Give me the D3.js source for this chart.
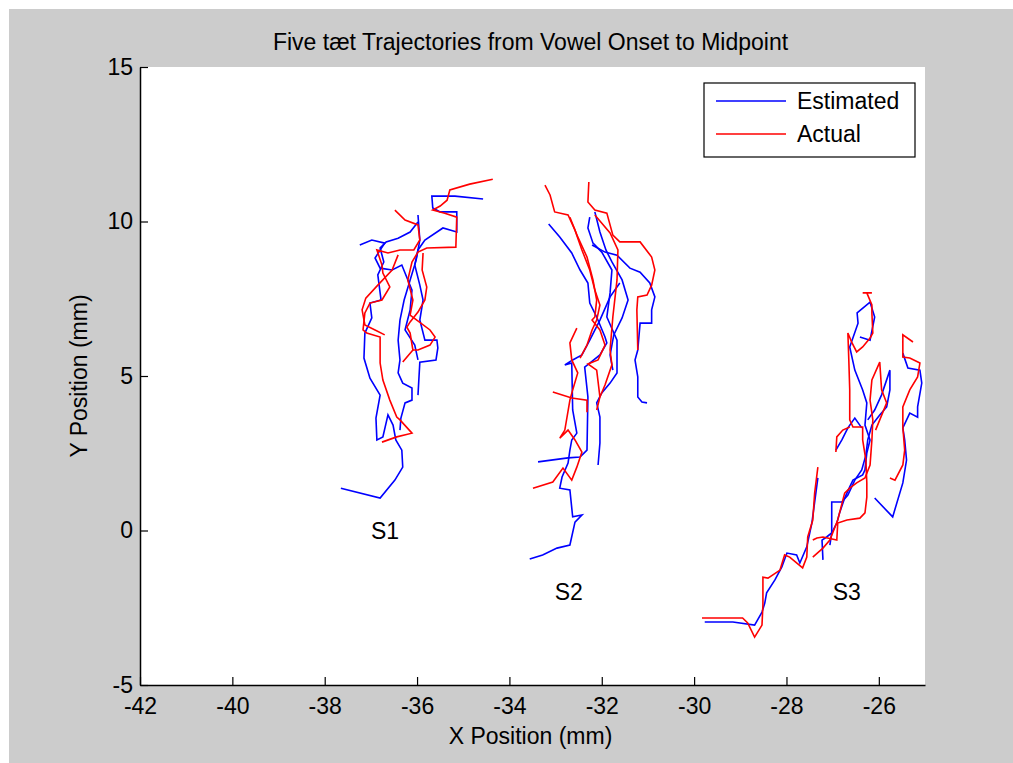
<!DOCTYPE html>
<html>
<head>
<meta charset="utf-8">
<script src="https://d3js.org/d3.v7.min.js"></script>
<style>
  body { margin: 0; background: #fff; }
  text { font-family: 'Liberation Sans', Arial, sans-serif; fill: #000; }
</style>
</head>
<body>
<div id="chart"></div>
<script>
// axis settings
var xTicks = [-42, -40, -38, -36, -34, -32, -30, -28, -26];
var yTicks = [-5, 0, 5, 10, 15];
var xDomain = [-42, -25];
var yDomain = [-5, 15];

// speaker labels
var speakerLabels = ["S1", "S2", "S3"];
var speakerLabelPos = [[-37.0, 0], [-33.02, -2], [-27.0, -2]];

// trajectories, [x, y] in mm
var s1Estimated = [
  [[-37.65,1.37],[-36.80,1.05],[-36.48,1.63],[-36.31,2.05],[-36.33,2.60],[-36.46,2.93],[-36.52,3.41],[-36.63,3.74],[-36.74,3.03],[-36.87,2.93],[-36.89,3.64],[-36.80,4.38],[-37.02,4.93],[-37.15,5.58],[-37.13,6.39],[-36.98,6.88],[-37.02,7.36],[-36.78,7.46],[-36.85,8.27],[-36.72,8.69],[-36.80,9.14],[-36.67,9.34],[-36.41,9.46],[-36.15,9.66],[-35.98,9.98]],
  [[-35.98,10.21],[-35.94,9.40],[-36.02,8.75],[-36.15,8.11],[-36.28,7.46],[-36.37,6.81],[-36.41,6.16],[-36.37,5.52],[-36.41,5.10],[-36.31,4.77],[-36.11,4.61],[-36.11,4.22],[-36.26,4.13],[-36.35,3.64],[-36.37,3.25]],
  [[-34.57,10.73],[-35.18,10.82],[-35.68,10.82],[-35.66,10.44],[-35.50,10.31],[-35.14,10.31],[-35.14,9.66],[-35.44,9.79],[-35.83,9.40],[-35.98,9.08],[-36.05,8.59],[-35.94,7.94],[-35.87,7.46],[-35.94,6.81],[-35.83,6.16],[-35.57,6.16],[-35.55,5.91],[-35.59,5.52],[-35.94,5.45],[-35.98,4.38]],
  [[-37.24,9.24],[-36.98,9.40],[-36.70,9.30],[-36.91,8.82],[-36.80,8.49],[-36.54,8.43],[-36.33,8.59],[-36.11,7.78],[-36.15,7.14],[-36.26,6.49],[-36.05,6.00],[-35.98,5.52]]
];
var s1Actual = [
  [[-34.36,11.37],[-34.86,11.21],[-35.29,11.02],[-35.35,10.69],[-35.50,10.50],[-35.66,10.37],[-35.40,10.27],[-35.14,10.14],[-35.16,9.17],[-35.79,9.14],[-35.98,9.01],[-36.11,8.69],[-36.20,8.11],[-36.09,7.46],[-36.15,6.97],[-35.72,6.49],[-35.61,6.26],[-35.72,6.00],[-35.98,5.84],[-36.09,5.84]],
  [[-36.48,10.37],[-36.26,10.05],[-35.98,9.89],[-35.94,9.40],[-36.07,9.08],[-36.37,9.08],[-36.63,8.98],[-36.87,9.08],[-36.76,8.59],[-36.74,8.33],[-36.59,7.88],[-36.76,7.46],[-37.02,7.36],[-37.13,7.04],[-37.17,6.49],[-37.09,6.39],[-36.80,6.26],[-36.80,5.42],[-36.74,4.87],[-36.59,4.22],[-36.44,3.67],[-36.37,3.58],[-36.11,3.15],[-36.44,3.03],[-36.76,2.86]],
  [[-35.87,8.98],[-35.89,8.43],[-35.79,7.88],[-35.83,7.46],[-35.98,7.07],[-36.15,6.75],[-36.22,6.58],[-36.15,6.39],[-36.09,5.84],[-36.31,5.45]],
  [[-36.41,8.92],[-36.54,8.43],[-36.85,7.94],[-37.11,7.52],[-37.19,7.14],[-37.13,6.65],[-36.91,6.49],[-36.70,6.33]]
];
var s2Estimated = [
  [[-33.15,9.92],[-32.91,9.50],[-32.65,8.98],[-32.47,8.43],[-32.30,8.01],[-32.26,7.36],[-32.11,6.91],[-31.93,6.26],[-31.89,6.07],[-32.04,5.68],[-32.26,5.42],[-32.37,5.29],[-32.30,4.32],[-32.32,2.60],[-32.47,2.38],[-32.73,2.35],[-33.38,2.22]],
  [[-32.26,10.14],[-32.30,9.79],[-32.19,9.30],[-32.00,9.01],[-31.78,8.43],[-31.82,7.69],[-31.89,6.91],[-31.67,6.16],[-31.67,5.10],[-31.82,4.77],[-32.00,4.45],[-32.11,4.13],[-32.04,3.67],[-32.04,2.83],[-32.08,2.12]],
  [[-32.21,9.24],[-31.93,9.01],[-31.67,8.91],[-31.39,8.49],[-31.17,8.36],[-30.96,8.01],[-30.85,7.56],[-30.92,7.14],[-30.92,6.71],[-31.17,6.71],[-31.22,5.84],[-31.28,5.52],[-31.22,4.97],[-31.22,4.32],[-31.13,4.16],[-31.02,4.13]],
  [[-31.61,8.01],[-31.82,7.56],[-32.04,6.81],[-32.26,6.16],[-32.43,5.68],[-32.63,5.52],[-32.80,5.36],[-32.65,5.42],[-32.63,3.90],[-32.54,3.15],[-32.65,2.93],[-32.69,2.60],[-32.73,2.18],[-32.86,1.73],[-32.91,1.37],[-32.69,1.31],[-32.63,0.44],[-32.43,0.50],[-32.58,0.27],[-32.69,-0.47],[-32.97,-0.57],[-33.28,-0.79],[-33.56,-0.92]],
  [[-32.15,10.31],[-32.04,9.66],[-31.91,9.08],[-31.78,8.69],[-31.56,8.11],[-31.43,7.46],[-31.56,6.88],[-31.74,6.33],[-31.82,5.68],[-31.76,5.19]]
];
var s2Actual = [
  [[-33.23,11.18],[-33.12,10.86],[-33.02,10.31],[-32.73,10.21],[-32.58,9.72],[-32.43,9.08],[-32.26,8.43],[-32.15,7.78],[-32.04,7.30],[-32.11,6.81],[-32.21,6.49],[-32.32,6.00],[-32.47,5.58]],
  [[-32.69,10.14],[-32.52,9.50],[-32.32,8.85],[-32.19,8.11],[-32.11,7.46],[-32.15,6.91],[-32.21,6.81],[-32.04,6.49],[-31.93,6.00],[-32.08,5.52],[-32.30,5.39],[-32.11,5.19],[-32.04,4.32],[-32.11,3.90]],
  [[-32.28,11.28],[-32.30,10.63],[-32.15,10.37],[-31.89,10.27],[-31.76,9.56],[-31.61,9.34],[-31.17,9.34],[-30.92,8.85],[-30.85,8.43],[-30.92,7.94],[-31.02,7.62],[-31.22,7.56],[-31.24,7.14],[-31.22,5.84]],
  [[-32.15,10.21],[-31.82,9.63],[-31.65,9.08],[-31.67,8.11],[-31.76,6.91],[-31.82,5.84],[-31.78,5.36],[-31.93,4.71],[-32.04,4.32]],
  [[-32.54,6.55],[-32.69,6.07],[-32.65,5.52],[-32.52,5.10],[-32.63,4.55],[-32.69,4.22],[-32.80,3.25],[-32.91,2.99],[-32.73,3.25],[-32.58,2.93],[-32.43,2.54],[-32.54,2.05],[-32.65,1.63],[-32.84,2.02],[-33.06,1.57],[-33.49,1.37]],
  [[-33.06,4.48],[-32.65,4.29],[-32.32,4.22],[-32.32,3.83]]
];
var s3Estimated = [
  [[-29.77,-2.96],[-29.16,-2.96],[-28.69,-3.06],[-28.53,-2.64],[-28.47,-2.35],[-28.43,-2.02],[-28.25,-1.60],[-28.10,-1.18],[-27.99,-0.73],[-27.78,-0.79],[-27.71,-1.05],[-27.56,-0.53],[-27.45,0.24],[-27.32,1.70]],
  [[-27.21,-0.95],[-27.23,-0.31],[-27.13,-0.21],[-27.02,-0.08],[-26.91,0.24],[-26.85,0.57],[-26.74,1.05],[-26.63,1.41],[-26.56,1.63],[-26.35,1.80],[-26.30,1.96],[-26.26,2.51],[-26.19,2.93],[-26.30,3.41],[-26.26,4.13],[-26.35,4.55],[-26.52,5.19],[-26.63,5.94],[-26.45,6.71],[-26.47,7.04],[-26.19,7.39],[-26.09,6.91],[-26.19,6.16],[-26.41,6.26]],
  [[-26.09,1.05],[-25.70,0.44],[-25.48,1.54],[-25.40,2.28],[-25.44,2.93],[-25.48,3.32],[-25.33,3.80],[-25.16,3.67],[-25.16,4.00],[-25.07,4.77],[-25.11,5.19],[-25.37,5.26],[-25.48,5.74]],
  [[-27.06,-0.47],[-27.02,-0.08],[-27.02,0.92],[-26.80,0.92],[-26.67,1.15],[-26.52,1.63],[-26.37,1.96],[-26.28,2.44],[-26.24,2.93],[-26.15,3.41],[-25.98,3.74],[-25.83,4.00],[-25.76,4.55],[-25.76,5.19],[-25.94,4.39],[-26.09,3.90],[-26.24,3.58]],
  [[-26.93,2.60],[-26.80,2.93],[-26.67,3.32],[-26.52,3.64],[-26.37,3.32]]
];
var s3Actual = [
  [[-29.83,-2.83],[-28.95,-2.83],[-28.84,-2.99],[-28.69,-3.45],[-28.53,-3.06],[-28.51,-2.41],[-28.51,-1.51],[-28.40,-1.54],[-28.14,-1.28],[-28.04,-0.79],[-27.93,-0.86],[-27.65,-1.21],[-27.56,-0.86],[-27.54,-0.21],[-27.43,0.34],[-27.39,1.21],[-27.32,2.05]],
  [[-27.43,-0.31],[-27.34,-0.24],[-27.21,-0.21],[-26.91,-0.31],[-26.89,0.24],[-26.69,0.34],[-26.41,0.40],[-26.30,0.57],[-26.26,1.08],[-26.26,1.54],[-26.28,2.28],[-26.35,2.93],[-26.35,3.35],[-26.56,3.35],[-26.63,3.58],[-26.63,4.55],[-26.65,5.52],[-26.67,6.39],[-26.58,6.07],[-26.48,5.78],[-26.35,5.94],[-26.19,6.23],[-26.13,6.39],[-26.15,7.04],[-26.15,7.30],[-26.26,7.69],[-26.35,7.69],[-26.15,7.69]],
  [[-27.43,-0.86],[-27.21,-0.57],[-27.06,-0.31],[-26.89,0.34],[-26.74,1.21],[-26.63,1.37],[-26.48,1.54],[-26.30,1.70],[-26.19,2.12],[-26.15,2.93],[-26.13,3.58],[-26.19,4.22],[-26.15,4.87],[-25.98,5.45],[-25.94,4.55],[-25.83,4.13],[-25.98,3.58],[-26.07,3.25]],
  [[-25.76,1.70],[-25.65,1.63],[-25.48,2.12],[-25.44,2.60],[-25.48,3.35],[-25.48,4.00],[-25.33,4.55],[-25.16,4.97],[-25.11,5.42],[-25.33,5.58],[-25.48,5.61],[-25.48,6.33],[-25.26,6.10]],
  [[-26.93,2.54],[-26.91,3.03],[-26.78,3.25],[-26.63,3.35]]
];

var estimated = s1Estimated.concat(s2Estimated, s3Estimated);
var actual = s1Actual.concat(s2Actual, s3Actual);

var W = 1013, H = 763;
var margin = {top: 67, right: 88, bottom: 78, left: 140},
    width = W - margin.left - margin.right,
    height = H - margin.top - margin.bottom;

var root = d3.select("#chart").append("svg")
  .attr("width", W)
  .attr("height", H);

// grey figure background
root.append("rect")
  .attr("x", 9).attr("y", 9)
  .attr("width", W - 9).attr("height", H - 9)
  .attr("fill", "#cccccc");

var svg = root.append("g")
  .attr("transform", "translate(" + margin.left + "," + margin.top + ")");

svg.append("rect")
  .attr("width", width).attr("height", height)
  .attr("fill", "#fff");

svg.append("clipPath").attr("id", "clip")
  .append("rect").attr("width", width).attr("height", height);

var x = d3.scaleLinear().domain(xDomain).range([0, width]);
var y = d3.scaleLinear().domain(yDomain).range([height, 0]);

var line = d3.line()
  .x(function (d) { return x(d[0]); })
  .y(function (d) { return y(d[1]); });

var plot = svg.append("g").attr("clip-path", "url(#clip)");

plot.selectAll(".est")
  .data(estimated)
  .enter().append("path")
  .attr("class", "est")
  .attr("d", line)
  .attr("fill", "none")
  .attr("stroke", "#0000ff")
  .attr("stroke-width", 1.6);

plot.selectAll(".act")
  .data(actual)
  .enter().append("path")
  .attr("class", "act")
  .attr("d", line)
  .attr("fill", "none")
  .attr("stroke", "#ff0000")
  .attr("stroke-width", 1.6);

// speaker labels
svg.selectAll(".spk")
  .data(speakerLabels)
  .enter().append("text")
  .attr("class", "spk")
  .attr("x", function (d, i) { return x(speakerLabelPos[i][0]); })
  .attr("y", function (d, i) { return y(speakerLabelPos[i][1]); })
  .attr("dy", "0.35em")
  .style("font-size", "23px")
  .text(function (d) { return d; });

// axes (ticks pointing inward, MATLAB style)
var xAxis = svg.append("g")
  .attr("transform", "translate(0," + height + ")")
  .call(d3.axisBottom(x).tickValues(xTicks).tickSize(-8).tickPadding(13).tickSizeOuter(0)
    .tickFormat(function (d) { return d; }));
var yAxis = svg.append("g")
  .call(d3.axisLeft(y).tickValues(yTicks).tickSize(-8).tickPadding(7).tickSizeOuter(0)
    .tickFormat(function (d) { return d; }));

[xAxis, yAxis].forEach(function (a) {
  a.select(".domain").attr("stroke", "#000").attr("stroke-width", 1.5);
  a.selectAll(".tick line").attr("stroke", "#000").attr("stroke-width", 1.2);
  a.selectAll("text")
    .style("font-family", "'Liberation Sans', Arial, sans-serif")
    .style("font-size", "23px")
    .attr("fill", "#000");
});

// title and axis labels
svg.append("text")
  .attr("x", width / 2 - 2).attr("y", -17)
  .attr("text-anchor", "middle")
  .style("font-size", "23px")
  .text("Five tæt Trajectories from Vowel Onset to Midpoint");

svg.append("text")
  .attr("x", width / 2 - 2).attr("y", height + 59)
  .attr("text-anchor", "middle")
  .style("font-size", "23px")
  .text("X Position (mm)");

svg.append("text")
  .attr("transform", "translate(-53," + (height / 2) + ") rotate(-90)")
  .attr("text-anchor", "middle")
  .style("font-size", "23px")
  .text("Y Position (mm)");

// legend
var legendItems = ["Estimated", "Actual"];
var legendColors = ["#0000ff", "#ff0000"];
var legend = svg.append("g").attr("transform", "translate(" + (width - 221) + ",16)");
legend.append("rect")
  .attr("width", 211).attr("height", 74)
  .attr("fill", "#fff").attr("stroke", "#000").attr("stroke-width", 1.2);
var li = legend.selectAll(".li")
  .data(legendItems)
  .enter().append("g")
  .attr("transform", function (d, i) { return "translate(0," + (18 + i * 33) + ")"; });
li.append("line")
  .attr("x1", 12).attr("x2", 82)
  .attr("stroke", function (d, i) { return legendColors[i]; })
  .attr("stroke-width", 1.6);
li.append("text")
  .attr("x", 93).attr("dy", "0.35em")
  .style("font-size", "23px")
  .text(function (d) { return d; });
</script>
</body>
</html>
